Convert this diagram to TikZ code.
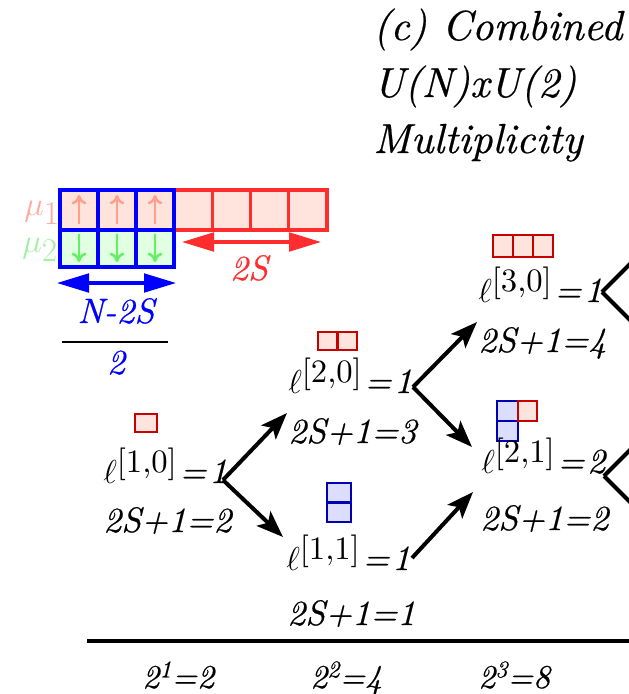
\documentclass[tikz,border=0pt]{standalone}
\usepackage{fontspec}
\setmainfont{lmroman10-regular.otf}[ItalicFont=lmroman10-italic.otf, ItalicFeatures={FakeBold=0.5}]
\usetikzlibrary{arrows.meta,calc}
\definecolor{yred}{RGB}{255,45,45}
\definecolor{ypink}{RGB}{255,228,222}
\definecolor{yblue}{RGB}{0,0,255}
\definecolor{ygreen}{RGB}{225,255,225}
\definecolor{upcol}{RGB}{255,160,140}
\definecolor{downcol}{RGB}{100,240,100}
\definecolor{muone}{RGB}{255,170,160}
\definecolor{mutwo}{RGB}{160,240,160}
\definecolor{tred}{RGB}{200,0,0}
\definecolor{tpink}{RGB}{255,228,222}
\definecolor{tblue}{RGB}{0,0,180}
\definecolor{tbluefill}{RGB}{220,222,255}
\newcommand{\fsz}[1]{\fontsize{#1}{#1}\selectfont}
\newcommand{\ellab}[2]{$\ell$\raisebox{8.2pt}{\fsz{24.5}\upshape[#1]}\kern2pt=\kern2pt#2}
\newcommand{\pw}[2]{2\raisebox{8pt}{\fsz{18}#1}=#2}
\tikzset{
  lab/.style={anchor=base west, inner sep=0pt, font=\fsz{26.5}\itshape},
  ttl/.style={anchor=base west, inner sep=0pt, font=\fsz{31.5}\itshape},
  bot/.style={anchor=base west, inner sep=0pt, font=\fsz{25}\itshape},
  tarrow/.style={line width=3pt, -{Stealth[length=20pt,width=15pt,inset=4.5pt]}},
  redbox/.style={draw=tred, fill=tpink, line width=2pt},
  bluebox/.style={draw=tblue, fill=tbluefill, line width=2pt},
  dblarrow/.style={line width=2.3pt, {Triangle[length=24pt,width=14pt]}-{Triangle[length=24pt,width=14pt]}},
  uparr/.style={line width=1.9pt, upcol, -{To[length=7pt,width=11pt]}},
  dnarr/.style={line width=1.9pt, downcol, -{To[length=7pt,width=11pt]}}
}
\begin{document}
\begin{tikzpicture}[x=0.75pt,y=-0.75pt]
\clip (0,0) rectangle (629,694);
\fill[white] (0,0) rectangle (629,694);
% title
\node[ttl] (t1) at (373,40) {(c) Combined};
\node[ttl] (t2) at (373,97) {U(N)xU(2)};
\node[ttl] (t3) at (373,153) {Multiplicity};
% Young diagram
\foreach \i in {0,1,2,3} {
  \filldraw[draw=yred, fill=ypink, line width=2.3pt] ({174+38.25*\i},190) rectangle ({174+38.25*(\i+1)},230);
}
\foreach \i in {0,1,2} {
  \filldraw[draw=yblue, fill=ypink, line width=2.6pt] ({60+38*\i},190) rectangle ({60+38*(\i+1)},230);
  \filldraw[draw=yblue, fill=ygreen, line width=2.6pt] ({60+38*\i},230) rectangle ({60+38*(\i+1)},267);
  \draw[uparr] ({79+38*\i},224) -- ({79+38*\i},195);
  \draw[dnarr] ({79+38*\i},234) -- ({79+38*\i},262);
}
\node[anchor=base west, inner sep=0pt, text=muone, font=\fsz{33}] (mu1) at (24,215) {$\mu_1$};
\node[anchor=base west, inner sep=0pt, text=mutwo, font=\fsz{33}] (mu2) at (22,252) {$\mu_2$};
\coordinate (ra) at (182,242);
\coordinate (rb) at (321,242);
\draw[dblarrow, yred] (ra) -- (rb);
\node[lab, anchor=base, text=yred] (twoS) at (249,280) {2S};
\coordinate (ba) at (57,283);
\coordinate (bb) at (176,283);
\draw[dblarrow, yblue] (ba) -- (bb);
\node[lab, anchor=base, text=yblue] (num) at (116,323) {N-2S};
\coordinate (fa) at (62,342);
\coordinate (fb) at (168,342);
\draw[line width=2.2pt] (fa) -- (fb);
\node[lab, anchor=base, text=yblue] (den) at (116,374) {2};
% tree boxes
\filldraw[redbox] (135,414) rectangle (157,432);
\filldraw[redbox] (318,332) rectangle (337.5,350);
\filldraw[redbox] (337.5,332) rectangle (357,350);
\filldraw[bluebox] (327,483) rectangle (351,502.5);
\filldraw[bluebox] (327,502.5) rectangle (351,522);
\filldraw[redbox] (493,235) rectangle (513,257);
\filldraw[redbox] (513,235) rectangle (533,257);
\filldraw[redbox] (533,235) rectangle (553,257);
\filldraw[bluebox] (497,401) rectangle (518,421);
\filldraw[bluebox] (497,421) rectangle (518,441);
\filldraw[redbox] (518,401) rectangle (537,421);
% labels
\node[lab] (l10) at (103,483) {\ellab{1,0}{1}};
\node[lab] (s10) at (103,532) {2S+1=2};
\node[lab] (l20) at (288,393) {\ellab{2,0}{1}};
\node[lab] (s20) at (288,443) {2S+1=3};
\node[lab] (l11) at (286,570) {\ellab{1,1}{1}};
\node[lab] (s11) at (287,625) {2S+1=1};
\node[lab] (l30) at (478,302) {\ellab{3,0}{1}};
\node[lab] (s30) at (478,352) {2S+1=4};
\node[lab] (l21) at (481,473) {\ellab{2,1}{2}};
\node[lab] (s21) at (480,530) {2S+1=2};
% arrows
\coordinate (v10) at (223,480);
\coordinate (v20) at (413,387);
\coordinate (v11) at (412,558);
\coordinate (v30) at (602,292);
\coordinate (v21) at (604,476);
\coordinate (t20) at (287,413);
\coordinate (t11) at (283,537);
\coordinate (t30) at (477,322);
\coordinate (t21a) at (472,447);
\coordinate (t21b) at (473,492);
\coordinate (o30a) at (660,234);
\coordinate (o30b) at (660,350);
\coordinate (o21a) at (662,418);
\coordinate (o21b) at (662,534);
\draw[tarrow] (v10) -- (t20);
\draw[tarrow] (v10) -- (t11);
\draw[tarrow] (v20) -- (t30);
\draw[tarrow] (v20) -- (t21a);
\draw[tarrow] (v11) -- (t21b);
\draw[tarrow] (v30) -- (o30a);
\draw[tarrow] (v30) -- (o30b);
\draw[tarrow] (v21) -- (o21a);
\draw[tarrow] (v21) -- (o21b);
% bottom axis
\coordinate (ax1) at (87,641);
\coordinate (ax2) at (640,641);
\draw[line width=2.6pt] (ax1) -- (ax2);
\node[bot] (p1) at (142,688) {\pw{1}{2}};
\node[bot] (p2) at (310,688) {\pw{2}{4}};
\node[bot] (p3) at (478,688) {\pw{3}{8}};
\end{tikzpicture}
\end{document}
